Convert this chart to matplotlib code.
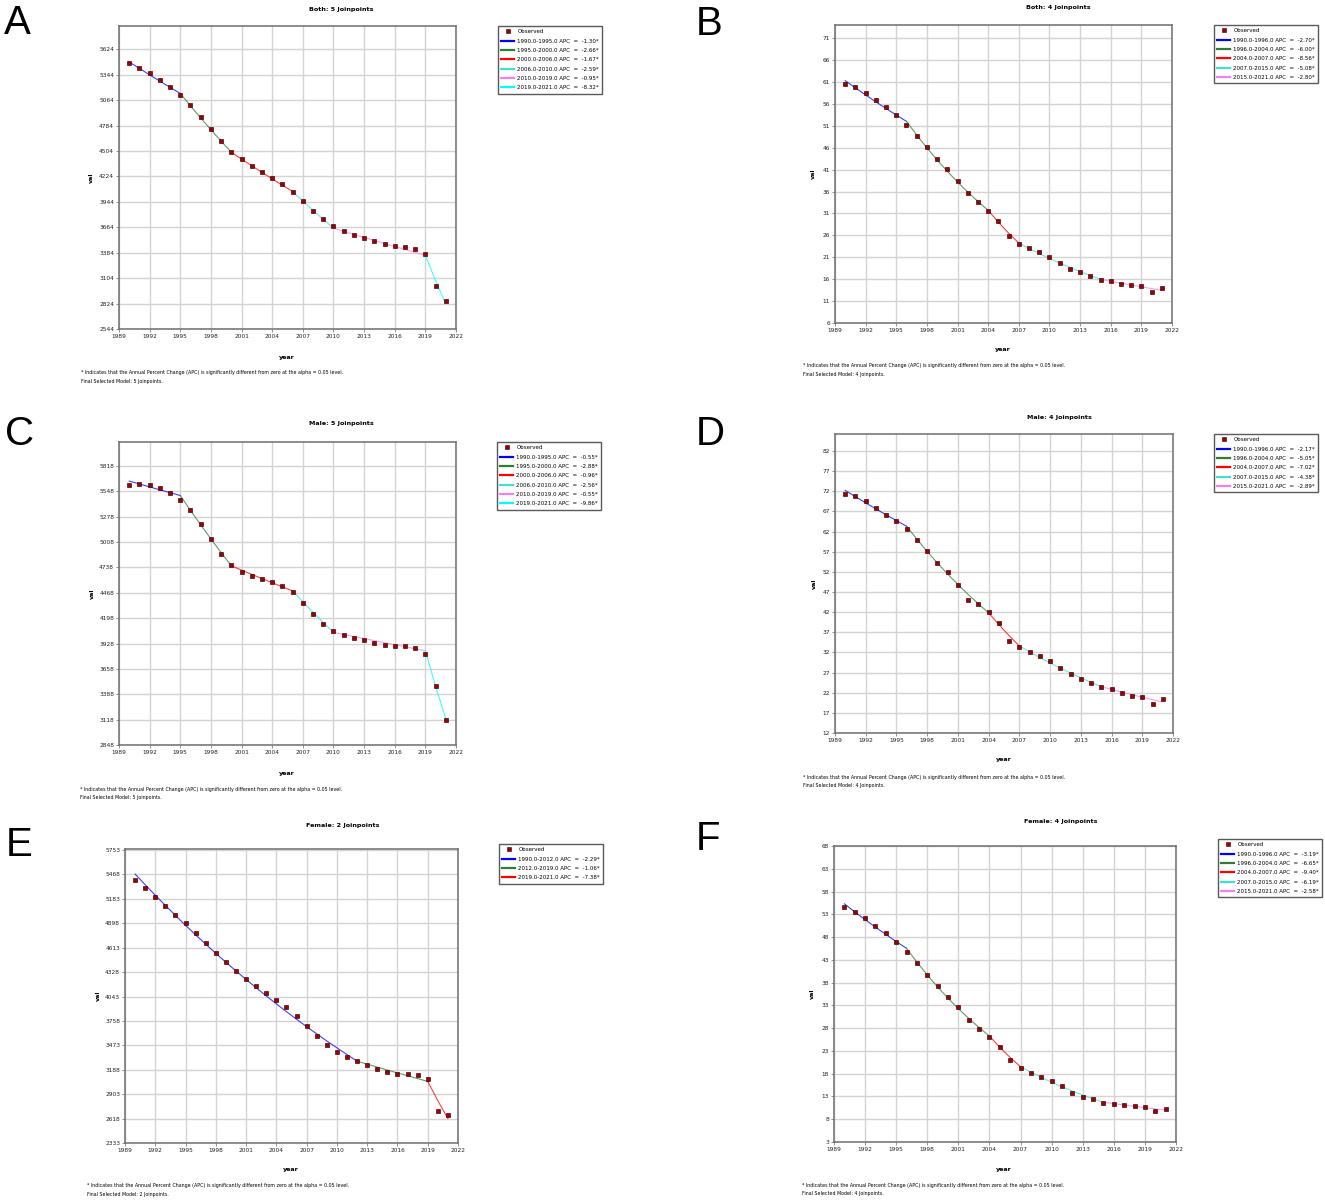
import numpy as np
import matplotlib.pyplot as plt
from matplotlib.lines import Line2D

W, H = 1325, 1202
OUT = "out.png"

YEARS = list(range(1990, 2022))

SEG_COLORS = ["#0000ff", "#2e7d32", "#ff0000", "#40e0d0", "#ee82ee", "#00ffff"]
OBS_COLOR = "#a00000"

FOOT1 = "* Indicates that the Annual Percent Change (APC) is significantly different from zero at the alpha = 0.05 level."

# ---- A: Both, 5 joinpoints
A_OBS = [5477, 5422, 5360, 5290, 5210, 5125, 5012, 4880, 4744, 4612, 4498,
         4414, 4341, 4271, 4205, 4143, 4058, 3956, 3849, 3750, 3677, 3626,
         3582, 3545, 3508, 3475, 3453, 3442, 3424, 3365, 3013, 2848]
A_FIT = [5485, 5414, 5343, 5274, 5205, 5138, 5001, 4868, 4739, 4613, 4490,
         4415, 4342, 4269, 4198, 4128, 4059, 3954, 3852, 3752, 3655, 3620,
         3586, 3552, 3519, 3485, 3452, 3420, 3387, 3355, 3076, 2820]
A_JOINS = [1990, 1995, 2000, 2006, 2010, 2019, 2021]
A_APC = ["-1.30*", "-2.66*", "-1.67*", "-2.59*", "-0.95*", "-8.32*"]
A_YTICKS = list(range(2544, 5625, 280))

# ---- B: Both, 4 joinpoints
B_OBS = [60.6, 59.8, 58.5, 56.9, 55.2, 53.4, 51.2, 48.7, 46.1, 43.4, 41.1,
         38.5, 35.6, 33.5, 31.6, 29.3, 25.8, 24.0, 23.0, 22.1, 21.1, 19.8,
         18.4, 17.6, 16.7, 15.9, 15.5, 15.0, 14.6, 14.4, 13.1, 13.9]
B_FIT = [61.3, 59.65, 58.04, 56.47, 54.94, 53.46, 52.01, 48.89, 45.96, 43.2,
         40.61, 38.17, 35.88, 33.73, 31.71, 28.99, 26.51, 24.24, 23.01, 21.84,
         20.73, 19.68, 18.68, 17.73, 16.83, 15.97, 15.52, 15.09, 14.67, 14.26,
         13.86, 13.47]
B_JOINS = [1990, 1996, 2004, 2007, 2015, 2021]
B_APC = ["-2.70*", "-6.00*", "-8.56*", "-5.08*", "-2.80*"]
B_YTICKS = list(range(6, 72, 5))

# ---- C: Male, 5 joinpoints
C_OBS = [5619, 5630, 5615, 5583, 5534, 5459, 5345, 5200, 5036, 4884, 4766,
         4692, 4642, 4614, 4585, 4543, 4472, 4365, 4248, 4138, 4063, 4020,
         3988, 3964, 3939, 3914, 3903, 3907, 3882, 3821, 3480, 3111]
C_FIT = [5658, 5627, 5596, 5565, 5535, 5504, 5346, 5192, 5042, 4897, 4756,
         4710, 4665, 4620, 4576, 4532, 4489, 4374, 4262, 4153, 4047, 4025,
         4003, 3981, 3959, 3937, 3916, 3894, 3873, 3852, 3472, 3130]
C_JOINS = [1990, 1995, 2000, 2006, 2010, 2019, 2021]
C_APC = ["-0.55*", "-2.88*", "-0.96*", "-2.56*", "-0.55*", "-9.86*"]
C_YTICKS = list(range(2848, 5819, 270))

# ---- D: Male, 4 joinpoints
D_OBS = [71.2, 70.7, 69.5, 67.9, 66.1, 64.5, 62.6, 60.0, 57.2, 54.2, 51.9,
         48.8, 45.1, 44.1, 42.0, 39.2, 34.9, 33.35, 32.2, 31.0, 29.9, 28.1,
         26.6, 25.5, 24.3, 23.3, 22.8, 22.0, 21.3, 20.9, 19.2, 20.4]
D_FIT = [72.2, 70.63, 69.1, 67.6, 66.13, 64.7, 63.29, 60.09, 57.06, 54.18,
         51.45, 48.85, 46.38, 44.04, 41.82, 38.88, 36.15, 33.61, 32.14, 30.73,
         29.39, 28.1, 26.87, 25.69, 24.57, 23.49, 22.81, 22.15, 21.51, 20.89,
         20.29, 19.7]
D_JOINS = [1990, 1996, 2004, 2007, 2015, 2021]
D_APC = ["-2.17*", "-5.05*", "-7.02*", "-4.38*", "-2.89*"]
D_YTICKS = list(range(12, 83, 5))

# ---- E: Female, 2 joinpoints
E_OBS = [5407, 5306, 5204, 5099, 4998, 4897, 4788, 4671, 4555, 4442, 4337,
         4247, 4162, 4080, 4002, 3916, 3815, 3702, 3586, 3481, 3399, 3341,
         3286, 3239, 3201, 3162, 3142, 3134, 3123, 3076, 2706, 2660]
E_FIT = [5473, 5348, 5225, 5106, 4989, 4874, 4763, 4654, 4547, 4443, 4341,
         4242, 4145, 4050, 3957, 3866, 3778, 3691, 3607, 3524, 3444, 3365,
         3288, 3253, 3219, 3185, 3151, 3118, 3085, 3052, 2827, 2618]
E_JOINS = [1990, 2012, 2019, 2021]
E_APC = ["-2.29*", "-1.06*", "-7.38*"]
E_YTICKS = list(range(2333, 5754, 285))

# ---- F: Female, 4 joinpoints
F_OBS = [54.5, 53.6, 52.2, 50.5, 48.9, 46.9, 44.7, 42.2, 39.7, 37.2, 34.8,
         32.6, 29.9, 27.8, 26.05, 23.9, 21.1, 19.2, 18.2, 17.3, 16.3, 15.2,
         13.8, 12.95, 12.4, 11.6, 11.3, 11.05, 10.8, 10.6, 9.7, 10.2]
F_FIT = [55.3, 53.54, 51.83, 50.18, 48.58, 47.03, 45.53, 42.5, 39.68, 37.04,
         34.58, 32.28, 30.14, 28.13, 26.26, 23.79, 21.56, 19.53, 18.32, 17.19,
         16.12, 15.13, 14.19, 13.31, 12.49, 11.72, 11.42, 11.12, 10.84, 10.56,
         10.28, 10.02]
F_JOINS = [1990, 1996, 2004, 2007, 2015, 2021]
F_APC = ["-3.19*", "-6.65*", "-9.40*", "-6.19*", "-2.58*"]
F_YTICKS = list(range(3, 69, 5))


def fx(x):
    return x / W


def fy(y):
    return 1 - y / H


def draw_panel(fig, p):
    x0, y0, x1, y1 = p["frame"]
    ax = fig.add_axes([fx(x0), fy(y1), (x1 - x0) / W, (y1 - y0) / H])

    years = np.array(YEARS)
    fit = np.array(p["fit"])
    joins = p["joins"]
    handles = [Line2D([], [], ls="none", marker="s", ms=2.6, mfc=OBS_COLOR,
                      mec="#300000", mew=0.4)]
    labels = ["Observed"]
    for i in range(len(joins) - 1):
        m = (years >= joins[i]) & (years <= joins[i + 1])
        c = p["colors"][i]
        ax.plot(years[m], fit[m], color=c, lw=0.8, alpha=0.75, zorder=2)
        handles.append(Line2D([], [], color=c, lw=1.6))
        labels.append(f"{joins[i]:.1f}-{joins[i + 1]:.1f} APC  =  {p['apc'][i]}")

    ax.plot(years, p["obs"], ls="none", marker="s", ms=3.0, mfc=OBS_COLOR,
            mec="#300000", mew=0.45, zorder=3)

    ax.set_xlim(1989, 2022)
    ax.set_xticks(range(1989, 2023, 3))
    ax.set_ylim(p["yticks"][0], p["ymax"])
    ax.set_yticks(p["yticks"])
    ax.grid(True, color="#d4d4d4", lw=1.0)
    ax.set_axisbelow(True)
    ax.tick_params(labelsize=4.2, length=2, width=0.5, color="#666666",
                   pad=1.5, labelcolor="#222222")
    for s in ax.spines.values():
        s.set_color("#6e6e6e")
        s.set_linewidth(1.1)

    leg = ax.legend(handles, labels, loc="upper left",
                    bbox_to_anchor=(fx(p["legend"][0]), fy(p["legend"][1])),
                    bbox_transform=fig.transFigure, borderaxespad=0,
                    fontsize=4.0, numpoints=1, handlelength=2.3,
                    handletextpad=0.6, labelspacing=0.78, borderpad=0.6,
                    fancybox=False, shadow=False, framealpha=1)
    leg.get_frame().set_edgecolor("#5a5a5a")
    leg.get_frame().set_linewidth(1.0)

    tx, ty = p["title_xy"]
    fig.text(fx(tx), fy(ty), p["title"], ha="center", va="center",
             fontsize=4.6, fontweight="bold")
    yx, yy = p["year_xy"]
    fig.text(fx(yx), fy(yy), "year", ha="center", va="center",
             fontsize=4.6, fontweight="bold")
    fig.text(fx(p["val_x"]), fy((y0 + y1) / 2), "val", ha="center",
             va="center", rotation=90, fontsize=4.6, fontweight="bold")
    nx, ny = p["foot_xy"]
    fig.text(fx(nx), fy(ny), FOOT1, ha="left", va="center", fontsize=3.4)
    fig.text(fx(nx), fy(ny + 8.5), f"Final Selected Model: {p['nj']} Joinpoints.",
             ha="left", va="center", fontsize=3.4)
    lx, ly = p["letter_xy"]
    fig.text(fx(lx), fy(ly), p["letter"], ha="left", va="top", fontsize=29,
             family="Liberation Sans")


PANELS = [
    dict(letter="A", title="Both: 5 Joinpoints", obs=A_OBS, fit=A_FIT,
         joins=A_JOINS, apc=A_APC, yticks=A_YTICKS, ymax=5881, nj=5,
         colors=SEG_COLORS, frame=(119, 26, 456, 329), legend=(498, 26),
         title_xy=(341, 9), year_xy=(287, 357), foot_xy=(81, 373), val_x=91,
         letter_xy=(4, 4)),
    dict(letter="B", title="Both: 4 Joinpoints", obs=B_OBS, fit=B_FIT,
         joins=B_JOINS, apc=B_APC, yticks=B_YTICKS, ymax=74.0, nj=4,
         colors=SEG_COLORS[:5], frame=(835, 25, 1172, 323), legend=(1214, 25),
         title_xy=(1058, 7), year_xy=(1003, 350), foot_xy=(803, 366), val_x=813,
         letter_xy=(696, 5)),
    dict(letter="C", title="Male: 5 Joinpoints", obs=C_OBS, fit=C_FIT,
         joins=C_JOINS, apc=C_APC, yticks=C_YTICKS, ymax=6074, nj=5,
         colors=SEG_COLORS, frame=(119, 442, 456, 745), legend=(497, 442),
         title_xy=(341, 424), year_xy=(287, 773), foot_xy=(80, 789), val_x=92,
         letter_xy=(5, 415)),
    dict(letter="D", title="Male: 4 Joinpoints", obs=D_OBS, fit=D_FIT,
         joins=D_JOINS, apc=D_APC, yticks=D_YTICKS, ymax=86.2, nj=4,
         colors=SEG_COLORS[:5], frame=(835, 434, 1173, 733), legend=(1214, 434),
         title_xy=(1059, 417), year_xy=(1004, 760), foot_xy=(803, 777), val_x=814,
         letter_xy=(696, 415)),
    dict(letter="E", title="Female: 2 Joinpoints", obs=E_OBS, fit=E_FIT,
         joins=E_JOINS, apc=E_APC, yticks=E_YTICKS, ymax=5765, nj=2,
         colors=SEG_COLORS[:3], frame=(125, 849, 458, 1143), legend=(499, 844),
         title_xy=(343, 826), year_xy=(291, 1170), foot_xy=(87, 1186), val_x=98,
         letter_xy=(6, 826)),
    dict(letter="F", title="Female: 4 Joinpoints", obs=F_OBS, fit=F_FIT,
         joins=F_JOINS, apc=F_APC, yticks=F_YTICKS, ymax=68, nj=4,
         colors=SEG_COLORS[:5], frame=(834, 846, 1176, 1142), legend=(1218, 839),
         title_xy=(1061, 821), year_xy=(1004, 1169), foot_xy=(802, 1185), val_x=812,
         letter_xy=(696, 820)),
]


def main():
    plt.rcParams["font.family"] = ["DejaVu Sans"]
    fig = plt.figure(figsize=(W / 100, H / 100), dpi=100, facecolor="white")
    for p in PANELS:
        draw_panel(fig, p)
    fig.savefig(OUT, dpi=100, facecolor="white")


if __name__ == "__main__":
    main()
